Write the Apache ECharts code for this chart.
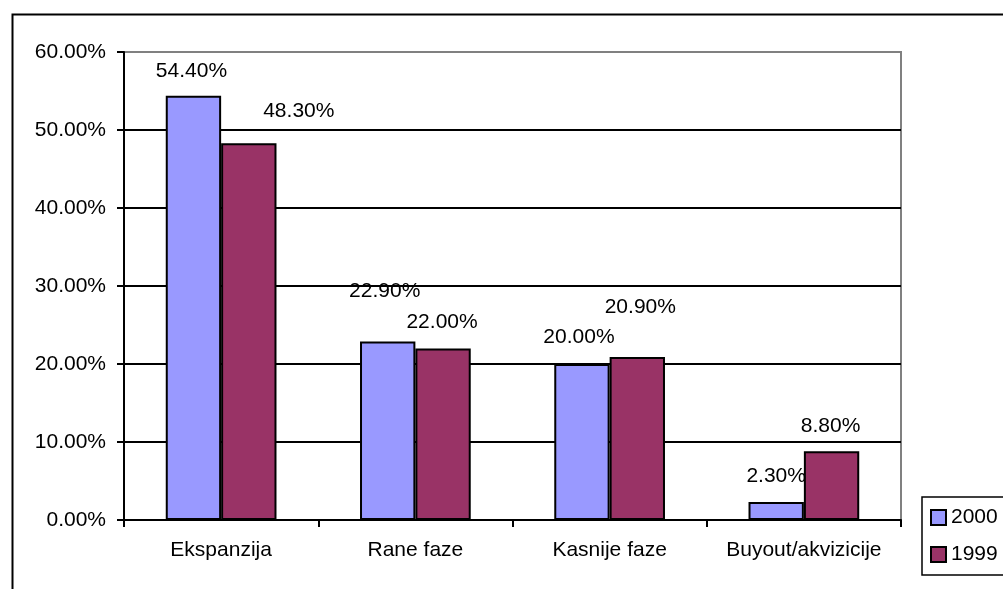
<!DOCTYPE html>
<html>
<head>
<meta charset="utf-8">
<script src="https://cdn.jsdelivr.net/npm/echarts@6/dist/echarts.min.js"></script>
<style>
  html, body { margin: 0; padding: 0; background: #fff; }
  #chart { width: 1003px; height: 589px; }
</style>
</head>
<body>
<div id="chart"></div>
<script>
// Share of investment by stage, two years compared
const categories = ['Ekspanzija', 'Rane faze', 'Kasnije faze', 'Buyout/akvizicije'];
const values2000 = [54.4, 22.9, 20.0, 2.3];
const values1999 = [48.3, 22.0, 20.9, 8.8];
const seriesNames = ['2000', '1999'];

// Label nudges [dx, dy] relative to the default spot above each bar
const shift2000 = [[-2, -14], [-3, -40], [-3, -16], [0, -15]];
const shift1999 = [[50, -22], [-1, -16], [3, -39], [-1, -15]];

const FONT = '"Liberation Sans", Arial, sans-serif';
const FS = 21;
const pct = v => v.toFixed(2) + '%';

function barData(values, shifts) {
  return values.map((v, i) => ({
    value: v,
    label: { offset: shifts[i] }
  }));
}

const labelStyle = {
  show: true,
  position: 'top',
  distance: 0,
  color: '#000',
  fontFamily: FONT,
  fontSize: FS,
  formatter: p => pct(p.value)
};

const chart = echarts.init(document.getElementById('chart'), null, { renderer: 'canvas' });

chart.setOption({
  backgroundColor: '#fff',
  animation: false,
  textStyle: { fontFamily: FONT },
  grid: {
    left: 124, top: 52, right: 102, bottom: 69,
    show: true,
    borderColor: '#808080',
    borderWidth: 2,
    backgroundColor: 'transparent'
  },
  legend: {
    orient: 'vertical',
    left: 922,
    top: 497,
    data: seriesNames,
    itemWidth: 15,
    itemHeight: 15,
    itemGap: 16,
    padding: [10, 24, 10, 8],
    borderColor: '#000',
    borderWidth: 1.5,
    icon: 'rect',
    textStyle: { color: '#000', fontSize: FS, fontFamily: FONT }
  },
  xAxis: {
    type: 'category',
    data: categories,
    axisLine: { lineStyle: { color: '#000', width: 2 } },
    axisTick: { show: true, interval: 0, length: 7, lineStyle: { color: '#000', width: 2 } },
    axisLabel: { color: '#000', fontSize: FS, fontFamily: FONT, margin: 20, interval: 0, hideOverlap: false },
    splitLine: { show: false }
  },
  yAxis: {
    type: 'value',
    min: 0,
    max: 60,
    interval: 10,
    axisLine: { show: true, lineStyle: { color: '#000', width: 2 } },
    axisTick: { show: true, length: 7, lineStyle: { color: '#000', width: 2 } },
    axisLabel: { color: '#000', fontSize: FS, fontFamily: FONT, margin: 18, formatter: v => pct(v) },
    splitLine: {
      show: true,
      lineStyle: { color: ['#000', '#000', '#000', '#000', '#000', '#000', '#808080'], width: 2 }
    }
  },
  series: [
    {
      name: seriesNames[0],
      type: 'bar',
      data: barData(values2000, shift2000),
      barGap: '0%',
      barCategoryGap: '43%',
      itemStyle: { color: '#9999FF', borderColor: '#000', borderWidth: 2 },
      label: labelStyle
    },
    {
      name: seriesNames[1],
      type: 'bar',
      data: barData(values1999, shift1999),
      barGap: '0%',
      barCategoryGap: '43%',
      itemStyle: { color: '#993366', borderColor: '#000', borderWidth: 2 },
      label: labelStyle
    }
  ],
  graphic: [
    {
      type: 'rect',
      left: 10, top: 12,
      shape: { x: 0, y: 0, width: 1100, height: 700 },
      style: { fill: 'none', stroke: '#000', lineWidth: 2 },
      silent: true,
      z: 100
    }
  ]
});
</script>
</body>
</html>
